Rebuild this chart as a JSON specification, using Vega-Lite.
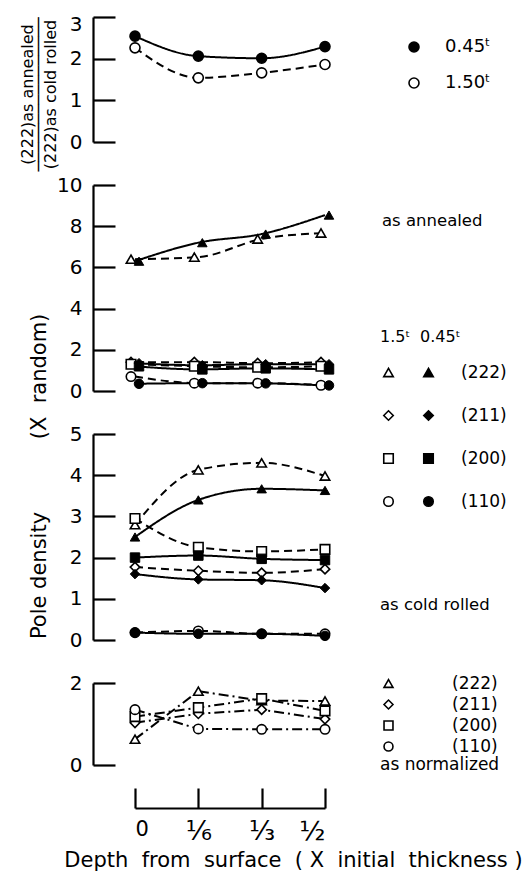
{
  "$schema": "https://vega.github.io/schema/vega-lite/v6.json",
  "background": "white",
  "padding": {"left": 18, "top": 14, "right": 5, "bottom": 5},
  "spacing": 43,
  "bounds": "flush",
  "config": {
    "view": {"stroke": null},
    "font": "DejaVu Sans",
    "axis": {"domainColor": "black", "domainWidth": 2.2, "tickColor": "black", "tickWidth": 2.2, "labelColor": "black", "labelFont": "DejaVu Sans", "labelFontSize": 20, "grid": false, "titleColor": "black", "titleFont": "DejaVu Sans", "titleFontWeight": "normal"},
    "legend": {"labelFont": "DejaVu Sans", "labelColor": "black", "titleFont": "DejaVu Sans", "titleFontWeight": "normal", "titleColor": "black", "symbolStrokeWidth": 1.6},
    "title": {"font": "DejaVu Sans", "fontWeight": "normal", "color": "black"}
  },
  "datasets": {
    "ratio": [
      {"depth": 0, "value": 2.54, "thick": "0.45ᵗ"},
      {"depth": 0.16667, "value": 2.06, "thick": "0.45ᵗ"},
      {"depth": 0.33333, "value": 2.01, "thick": "0.45ᵗ"},
      {"depth": 0.5, "value": 2.29, "thick": "0.45ᵗ"},
      {"depth": 0, "value": 2.26, "thick": "1.50ᵗ"},
      {"depth": 0.16667, "value": 1.54, "thick": "1.50ᵗ"},
      {"depth": 0.33333, "value": 1.66, "thick": "1.50ᵗ"},
      {"depth": 0.5, "value": 1.86, "thick": "1.50ᵗ"}
    ],
    "annealed": [
      {"depth": 0, "value": 6.4, "plane": "(222)", "thick": "1.5t"},
      {"depth": 0.16667, "value": 6.5, "plane": "(222)", "thick": "1.5t"},
      {"depth": 0.33333, "value": 7.38, "plane": "(222)", "thick": "1.5t"},
      {"depth": 0.5, "value": 7.67, "plane": "(222)", "thick": "1.5t"},
      {"depth": 0, "value": 6.3, "plane": "(222)", "thick": "0.45t"},
      {"depth": 0.16667, "value": 7.2, "plane": "(222)", "thick": "0.45t"},
      {"depth": 0.33333, "value": 7.62, "plane": "(222)", "thick": "0.45t"},
      {"depth": 0.5, "value": 8.54, "plane": "(222)", "thick": "0.45t"},
      {"depth": 0, "value": 1.4, "plane": "(211)", "thick": "1.5t"},
      {"depth": 0.16667, "value": 1.4, "plane": "(211)", "thick": "1.5t"},
      {"depth": 0.33333, "value": 1.35, "plane": "(211)", "thick": "1.5t"},
      {"depth": 0.5, "value": 1.4, "plane": "(211)", "thick": "1.5t"},
      {"depth": 0, "value": 1.35, "plane": "(211)", "thick": "0.45t"},
      {"depth": 0.16667, "value": 1.25, "plane": "(211)", "thick": "0.45t"},
      {"depth": 0.33333, "value": 1.3, "plane": "(211)", "thick": "0.45t"},
      {"depth": 0.5, "value": 1.3, "plane": "(211)", "thick": "0.45t"},
      {"depth": 0, "value": 1.3, "plane": "(200)", "thick": "1.5t"},
      {"depth": 0.16667, "value": 1.2, "plane": "(200)", "thick": "1.5t"},
      {"depth": 0.33333, "value": 1.15, "plane": "(200)", "thick": "1.5t"},
      {"depth": 0.5, "value": 1.2, "plane": "(200)", "thick": "1.5t"},
      {"depth": 0, "value": 1.2, "plane": "(200)", "thick": "0.45t"},
      {"depth": 0.16667, "value": 1.05, "plane": "(200)", "thick": "0.45t"},
      {"depth": 0.33333, "value": 1.1, "plane": "(200)", "thick": "0.45t"},
      {"depth": 0.5, "value": 1.05, "plane": "(200)", "thick": "0.45t"},
      {"depth": 0, "value": 0.7, "plane": "(110)", "thick": "1.5t"},
      {"depth": 0.16667, "value": 0.38, "plane": "(110)", "thick": "1.5t"},
      {"depth": 0.33333, "value": 0.38, "plane": "(110)", "thick": "1.5t"},
      {"depth": 0.5, "value": 0.28, "plane": "(110)", "thick": "1.5t"},
      {"depth": 0, "value": 0.35, "plane": "(110)", "thick": "0.45t"},
      {"depth": 0.16667, "value": 0.38, "plane": "(110)", "thick": "0.45t"},
      {"depth": 0.33333, "value": 0.37, "plane": "(110)", "thick": "0.45t"},
      {"depth": 0.5, "value": 0.27, "plane": "(110)", "thick": "0.45t"}
    ],
    "cold": [
      {"depth": 0, "value": 2.8, "plane": "(222)", "thick": "1.5t"},
      {"depth": 0.16667, "value": 4.13, "plane": "(222)", "thick": "1.5t"},
      {"depth": 0.33333, "value": 4.3, "plane": "(222)", "thick": "1.5t"},
      {"depth": 0.5, "value": 3.98, "plane": "(222)", "thick": "1.5t"},
      {"depth": 0, "value": 2.5, "plane": "(222)", "thick": "0.45t"},
      {"depth": 0.16667, "value": 3.4, "plane": "(222)", "thick": "0.45t"},
      {"depth": 0.33333, "value": 3.67, "plane": "(222)", "thick": "0.45t"},
      {"depth": 0.5, "value": 3.63, "plane": "(222)", "thick": "0.45t"},
      {"depth": 0, "value": 1.77, "plane": "(211)", "thick": "1.5t"},
      {"depth": 0.16667, "value": 1.68, "plane": "(211)", "thick": "1.5t"},
      {"depth": 0.33333, "value": 1.63, "plane": "(211)", "thick": "1.5t"},
      {"depth": 0.5, "value": 1.72, "plane": "(211)", "thick": "1.5t"},
      {"depth": 0, "value": 1.6, "plane": "(211)", "thick": "0.45t"},
      {"depth": 0.16667, "value": 1.47, "plane": "(211)", "thick": "0.45t"},
      {"depth": 0.33333, "value": 1.45, "plane": "(211)", "thick": "0.45t"},
      {"depth": 0.5, "value": 1.26, "plane": "(211)", "thick": "0.45t"},
      {"depth": 0, "value": 2.95, "plane": "(200)", "thick": "1.5t"},
      {"depth": 0.16667, "value": 2.25, "plane": "(200)", "thick": "1.5t"},
      {"depth": 0.33333, "value": 2.15, "plane": "(200)", "thick": "1.5t"},
      {"depth": 0.5, "value": 2.2, "plane": "(200)", "thick": "1.5t"},
      {"depth": 0, "value": 2.0, "plane": "(200)", "thick": "0.45t"},
      {"depth": 0.16667, "value": 2.05, "plane": "(200)", "thick": "0.45t"},
      {"depth": 0.33333, "value": 1.97, "plane": "(200)", "thick": "0.45t"},
      {"depth": 0.5, "value": 1.94, "plane": "(200)", "thick": "0.45t"},
      {"depth": 0, "value": 0.18, "plane": "(110)", "thick": "1.5t"},
      {"depth": 0.16667, "value": 0.22, "plane": "(110)", "thick": "1.5t"},
      {"depth": 0.33333, "value": 0.15, "plane": "(110)", "thick": "1.5t"},
      {"depth": 0.5, "value": 0.15, "plane": "(110)", "thick": "1.5t"},
      {"depth": 0, "value": 0.18, "plane": "(110)", "thick": "0.45t"},
      {"depth": 0.16667, "value": 0.15, "plane": "(110)", "thick": "0.45t"},
      {"depth": 0.33333, "value": 0.15, "plane": "(110)", "thick": "0.45t"},
      {"depth": 0.5, "value": 0.1, "plane": "(110)", "thick": "0.45t"}
    ],
    "norm": [
      {"depth": 0, "value": 0.63, "plane": "(222)"},
      {"depth": 0.16667, "value": 1.8, "plane": "(222)"},
      {"depth": 0.33333, "value": 1.57, "plane": "(222)"},
      {"depth": 0.5, "value": 1.56, "plane": "(222)"},
      {"depth": 0, "value": 1.03, "plane": "(211)"},
      {"depth": 0.16667, "value": 1.25, "plane": "(211)"},
      {"depth": 0.33333, "value": 1.35, "plane": "(211)"},
      {"depth": 0.5, "value": 1.12, "plane": "(211)"},
      {"depth": 0, "value": 1.18, "plane": "(200)"},
      {"depth": 0.16667, "value": 1.4, "plane": "(200)"},
      {"depth": 0.33333, "value": 1.62, "plane": "(200)"},
      {"depth": 0.5, "value": 1.32, "plane": "(200)"},
      {"depth": 0, "value": 1.35, "plane": "(110)"},
      {"depth": 0.16667, "value": 0.88, "plane": "(110)"},
      {"depth": 0.33333, "value": 0.87, "plane": "(110)"},
      {"depth": 0.5, "value": 0.87, "plane": "(110)"}
    ]
  },
  "vconcat": [
    {
      "width": 190, "height": 125,
      "data": {"name": "ratio"},
      "encoding": {
        "x": {"field": "depth", "type": "quantitative", "scale": {"domain": [0, 0.5], "nice": false}, "axis": null},
        "y": {"field": "value", "type": "quantitative", "scale": {"domain": [0, 3], "nice": false},
          "axis": {"offset": 42, "tickSize": -22, "labelPadding": 33, "values": [0, 1, 2, 3], "format": "d",
            "labelOffset": {"condition": {"test": "datum.value == 3", "value": 7}, "value": 0},
            "title": ["(222)as annealed", "────────────────", "(222)as cold rolled"],
            "titleFontSize": 16, "titleLineHeight": 11.5, "titleAngle": -90, "titleAlign": "center", "titleBaseline": "top", "titleX": -74, "titleY": 77}}
      },
      "layer": [
        {"mark": {"type": "line", "interpolate": "monotone", "strokeWidth": 2, "color": "black"},
         "encoding": {"strokeDash": {"field": "thick", "type": "nominal", "scale": {"domain": ["0.45ᵗ", "1.50ᵗ"], "range": [[1, 0], [8, 5]]}, "legend": null}}},
        {"mark": {"type": "point", "shape": "circle", "size": 100, "filled": true, "stroke": "black", "strokeWidth": 1.6, "opacity": 1},
         "encoding": {"fill": {"field": "thick", "type": "nominal", "scale": {"domain": ["0.45ᵗ", "1.50ᵗ"], "range": ["black", "white"]},
           "legend": {"orient": "none", "legendX": 270, "legendY": 21, "title": null, "symbolType": "circle", "symbolSize": 100, "symbolStrokeColor": "black", "labelFontSize": 18, "labelOffset": 22, "rowPadding": 18}}}}
      ],
      "resolve": {"scale": {"fill": "independent", "strokeDash": "independent"}, "legend": {"fill": "independent"}}
    },
    {
      "width": 190, "height": 206,
      "data": {"name": "annealed"},
      "title": {"text": "as annealed", "anchor": "start", "frame": "group", "fontSize": 16.5, "offset": 0, "baseline": "middle", "dx": 247, "dy": 62},
      "encoding": {
        "x": {"field": "depth", "type": "quantitative", "scale": {"domain": [0, 0.5], "nice": false}, "axis": null},
        "y": {"field": "value", "type": "quantitative", "scale": {"domain": [0, 10], "nice": false},
          "axis": {"offset": 42, "tickSize": -22, "labelPadding": 33, "values": [0, 2, 4, 6, 8, 10], "format": "d",
            "title": "(X\u00a0\u00a0random)", "titleFontSize": 21, "titleAngle": -90, "titleAlign": "center", "titleBaseline": "alphabetic", "titleX": -48, "titleY": 191}}
      },
      "layer": [
        {"mark": {"type": "line", "interpolate": "monotone", "strokeWidth": 2, "color": "black"},
         "encoding": {"detail": {"field": "plane"}, "strokeDash": {"field": "thick", "type": "nominal", "scale": {"domain": ["0.45t", "1.5t"], "range": [[1, 0], [8, 5]]}, "legend": null}}},
        {"transform": [{"filter": "datum.thick == '1.5t'"}],
         "mark": {"type": "point", "filled": true, "strokeWidth": 1.6, "size": 90, "opacity": 1, "xOffset": -4},
         "encoding": {
           "shape": {"field": "plane", "type": "nominal", "scale": {"domain": ["(222)", "(211)", "(200)", "(110)"], "range": ["triangle-up", "diamond", "square", "circle"]},
             "legend": {"orient": "none", "legendX": 245, "legendY": 144, "title": "1.5ᵗ", "titleFontSize": 16, "titlePadding": 19, "labelExpr": "'\u00a0'", "labelFontSize": 17, "symbolSize": 90, "rowPadding": 25, "labelOffset": 2}},
           "fill": {"field": "plane", "type": "nominal", "scale": {"domain": ["(222)", "(211)", "(200)", "(110)"], "range": ["white", "white", "white", "white"]},
             "legend": {"orient": "none", "legendX": 245, "legendY": 144, "title": "1.5ᵗ", "titleFontSize": 16, "titlePadding": 19, "labelExpr": "'\u00a0'", "labelFontSize": 17, "symbolSize": 90, "rowPadding": 25, "labelOffset": 2}},
           "stroke": {"field": "plane", "type": "nominal", "scale": {"domain": ["(222)", "(211)", "(200)", "(110)"], "range": ["black", "black", "black", "black"]},
             "legend": {"orient": "none", "legendX": 245, "legendY": 144, "title": "1.5ᵗ", "titleFontSize": 16, "titlePadding": 19, "labelExpr": "'\u00a0'", "labelFontSize": 17, "symbolSize": 90, "rowPadding": 25, "labelOffset": 2}}}},
        {"transform": [{"filter": "datum.thick == '0.45t'"}],
         "mark": {"type": "point", "filled": true, "fill": "black", "stroke": "black", "strokeWidth": 1, "size": 90, "opacity": 1, "xOffset": 4},
         "encoding": {"shape": {"field": "plane", "type": "nominal", "scale": {"domain": ["(222)", "(211)", "(200)", "(110)"], "range": ["triangle-up", "diamond", "square", "circle"]},
           "legend": {"orient": "none", "legendX": 285, "legendY": 144, "title": "0.45ᵗ", "titleFontSize": 16, "titlePadding": 19, "labelFontSize": 17, "symbolSize": 90, "rowPadding": 25, "labelOffset": 24}}}}
      ],
      "resolve": {"scale": {"shape": "independent", "fill": "independent", "stroke": "independent"}, "legend": {"shape": "independent", "fill": "independent", "stroke": "independent"}}
    },
    {
      "width": 190, "height": 206,
      "data": {"name": "cold"},
      "title": {"text": "as cold rolled", "anchor": "start", "frame": "group", "fontSize": 16.5, "offset": 0, "baseline": "middle", "dx": 245, "dy": 197},
      "encoding": {
        "x": {"field": "depth", "type": "quantitative", "scale": {"domain": [0, 0.5], "nice": false}, "axis": null},
        "y": {"field": "value", "type": "quantitative", "scale": {"domain": [0, 5], "nice": false},
          "axis": {"offset": 42, "tickSize": -22, "labelPadding": 33, "values": [0, 1, 2, 3, 4, 5], "format": "d",
            "title": "Pole density", "titleFontSize": 21, "titleAngle": -90, "titleAlign": "center", "titleBaseline": "alphabetic", "titleX": -48, "titleY": 141}}
      },
      "layer": [
        {"mark": {"type": "line", "interpolate": "monotone", "strokeWidth": 2, "color": "black"},
         "encoding": {"detail": {"field": "plane"}, "strokeDash": {"field": "thick", "type": "nominal", "scale": {"domain": ["0.45t", "1.5t"], "range": [[1, 0], [8, 5]]}, "legend": null}}},
        {"transform": [{"filter": "datum.thick == '1.5t'"}],
         "mark": {"type": "point", "filled": true, "fill": "white", "stroke": "black", "strokeWidth": 1.6, "size": 90, "opacity": 1},
         "encoding": {"shape": {"field": "plane", "type": "nominal", "scale": {"domain": ["(222)", "(211)", "(200)", "(110)"], "range": ["triangle-up", "diamond", "square", "circle"]}, "legend": null}}},
        {"transform": [{"filter": "datum.thick == '0.45t'"}],
         "mark": {"type": "point", "filled": true, "fill": "black", "stroke": "black", "strokeWidth": 1, "size": 90, "opacity": 1},
         "encoding": {"shape": {"field": "plane", "type": "nominal", "scale": {"domain": ["(222)", "(211)", "(200)", "(110)"], "range": ["triangle-up", "diamond", "square", "circle"]}, "legend": null}}}
      ],
      "resolve": {"scale": {"shape": "independent"}, "legend": {"shape": "independent"}}
    },
    {
      "width": 190, "height": 82,
      "data": {"name": "norm"},
      "encoding": {
        "x": {"field": "depth", "type": "quantitative", "scale": {"domain": [0, 0.5], "nice": false},
          "axis": {"orient": "bottom", "offset": 43, "tickSize": -20, "labelPadding": 30, "values": [0, 0.16667, 0.33333, 0.5],
            "labelExpr": "datum.value == 0 ? '0' : datum.value < 0.2 ? '⅙' : datum.value < 0.4 ? '⅓' : '½'",
            "labelFontSize": {"condition": {"test": "datum.value > 0", "value": 27}, "value": 21}, "labelBaseline": "top",
            "title": "Depth\u00a0 from\u00a0 surface\u00a0 (\u00a0X\u00a0 initial\u00a0 thickness\u00a0)", "titleFontSize": 21, "titleAlign": "center", "titleBaseline": "alphabetic", "titleX": 158, "titleY": 58}},
        "y": {"field": "value", "type": "quantitative", "scale": {"domain": [0, 2], "nice": false},
          "axis": {"offset": 42, "tickSize": -22, "labelPadding": 33, "values": [0, 1, 2], "format": "d", "title": null}}
      },
      "layer": [
        {"mark": {"type": "line", "strokeWidth": 2, "color": "black", "strokeDash": [10, 4, 2, 4]},
         "encoding": {"detail": {"field": "plane"}}},
        {"mark": {"type": "point", "filled": true, "strokeWidth": 1.6, "size": 90, "opacity": 1},
         "encoding": {
           "shape": {"field": "plane", "type": "nominal", "scale": {"domain": ["(222)", "(211)", "(200)", "(110)"], "range": ["triangle-up", "diamond", "square", "circle"]},
             "legend": {"orient": "none", "legendX": 245, "legendY": -8, "title": "as normalized", "titleOrient": "bottom", "titleFontSize": 17, "titlePadding": 2, "labelFontSize": 17, "symbolSize": 80, "rowPadding": 3, "labelOffset": 55}},
           "fill": {"field": "plane", "type": "nominal", "scale": {"domain": ["(222)", "(211)", "(200)", "(110)"], "range": ["white", "white", "white", "white"]},
             "legend": {"orient": "none", "legendX": 245, "legendY": -8, "title": "as normalized", "titleOrient": "bottom", "titleFontSize": 17, "titlePadding": 2, "labelFontSize": 17, "symbolSize": 80, "rowPadding": 3, "labelOffset": 55}},
           "stroke": {"field": "plane", "type": "nominal", "scale": {"domain": ["(222)", "(211)", "(200)", "(110)"], "range": ["black", "black", "black", "black"]},
             "legend": {"orient": "none", "legendX": 245, "legendY": -8, "title": "as normalized", "titleOrient": "bottom", "titleFontSize": 17, "titlePadding": 2, "labelFontSize": 17, "symbolSize": 80, "rowPadding": 3, "labelOffset": 55}}}}
      ],
      "resolve": {"scale": {"shape": "independent", "fill": "independent", "stroke": "independent"}, "legend": {"shape": "independent", "fill": "independent", "stroke": "independent"}}
    }
  ]
}
